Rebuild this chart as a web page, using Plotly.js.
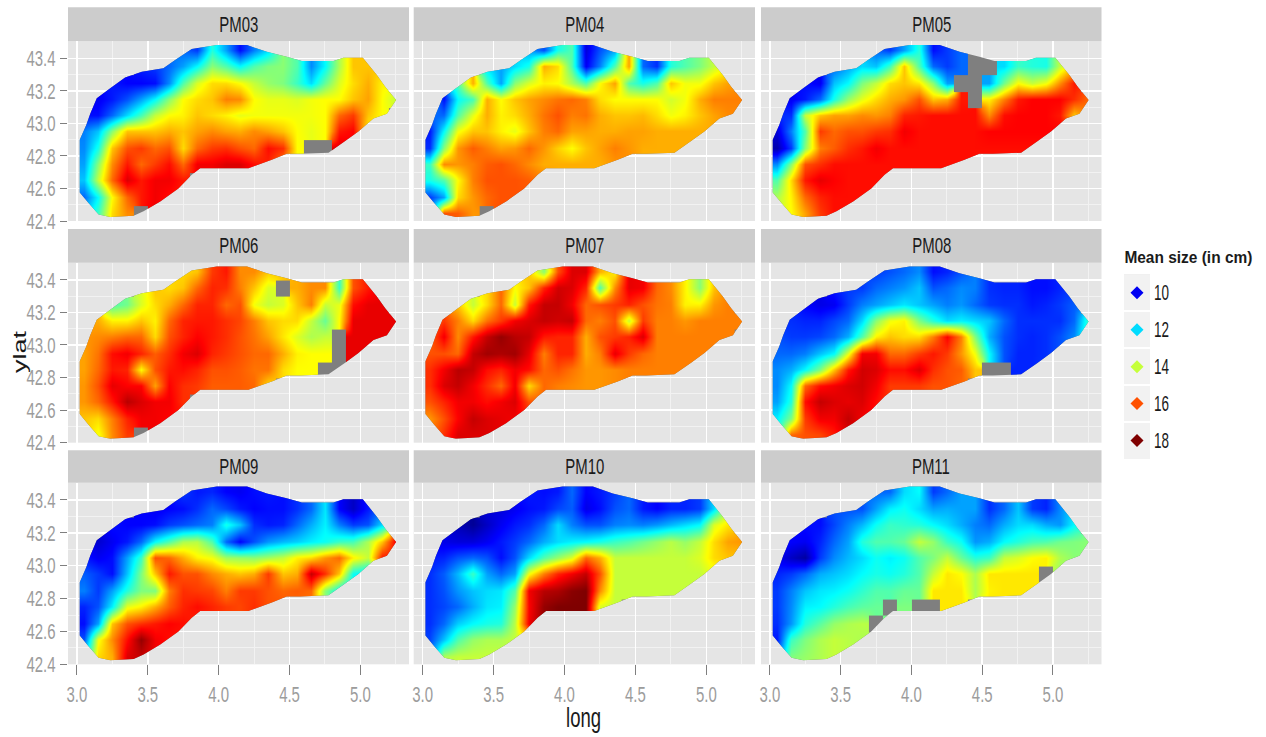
<!DOCTYPE html>
<html>
<head>
<meta charset="utf-8">
<script src="https://cdn.plot.ly/plotly-3.0.1.min.js"></script>
<style>html,body{margin:0;padding:0;background:#fff}#chart{width:1266px;height:737px}</style>
</head>
<body>
<div id="chart"></div>
<script>
// Grid of the interpolated surface (cell centres)
const GRID_LONG = [3.05,3.15,3.25,3.35,3.45,3.55,3.65,3.75,3.85,3.95,4.05,4.15,4.25,4.35,4.45,4.55,4.65,4.75,4.85,4.95,5.05,5.15,5.25];
const GRID_LAT = [43.45,43.35,43.25,43.15,43.05,42.95,42.85,42.75,42.65,42.55,42.45];
const ROW_FIRST_COL = [7,4,2,0,0,0,0,0,0,0,0];

// Study-area boundary
const OUTLINE_LONG = [3.02,3.066,3.094,3.14,3.235,3.34,3.458,3.61,3.693,3.81,3.987,4.2,4.34,4.48,4.587,4.81,4.88,5.017,5.116,5.175,5.252,5.187,5.092,4.986,4.89,4.775,4.575,4.48,4.375,4.21,3.87,3.81,3.716,3.588,3.47,3.40,3.235,3.153,3.082,3.02];
const OUTLINE_LAT = [42.9,42.99,43.06,43.155,43.216,43.283,43.318,43.339,43.39,43.457,43.482,43.482,43.44,43.41,43.384,43.384,43.404,43.404,43.298,43.226,43.144,43.06,43.03,42.95,42.89,42.82,42.813,42.813,42.776,42.725,42.725,42.684,42.60,42.52,42.46,42.433,42.425,42.44,42.51,42.576];

// Mean size (cm) per month, rows from north to south; null = no estimate (grey)
const PM03 = [
[11,10.6,12.6,11.5,10.2,11.2,12,13.5,13,11.3,12.3,13.8,15,15],
[10.4,10.6,11,11.5,12.3,13.5,13,12.3,13,13.4,13.5,13,11.3,12.3,13.8,15,15,15],
[10.3,10.1,10.1,10.2,11.3,13,14.2,14.8,14.8,14.5,14,13.6,13.4,12.8,12,13.2,14.2,14.8,15.2,14.6],
[10,10,10.3,10.8,11.5,12.3,13.5,14.5,14.8,15,15.6,15.5,14.5,14.3,14.3,14.2,14.4,14.5,14.5,15,15.3,14.5,14],
[10.2,10.2,11,12,12.9,14,14.5,14.6,15,14.8,14.6,14.3,14.4,14.4,14.4,14.4,14.4,14.5,15.8,16.2,15,14.5,null],
[11.2,11.8,13.5,15,15,15,15.2,15,15.3,15.5,15.3,15.2,15.5,15.3,15,14.5,14.3,14.5,16.5,16.7,14.6,14.5],
[11.3,12.5,15,16,16.2,15.8,16,14.8,15.8,16.2,16.3,16,15.8,16.6,16.3,14.5,null,null,17,16.7,15],
[11.5,13.5,15.5,16.5,15.8,16.2,16.6,15.8,16.8,16.8,17,17,16.6,16.4,15.5,14.5,14.5,17,17],
[11.8,14,15.8,17,16.5,16.8,16.8,16.5,null,16.8,17,17,16.6],
[11,12.3,14.5,15.8,16.5,16.8,16.6,16.5],
[11.8,12.8,14.8,15.5,null,16.8,16.6]];
const PM04 = [
[11.5,10.8,12.5,13,9.8,10.8,11.5,15.3,11,10.5,12.6,13,13.4,14],
[12,11.5,12,12.5,15.2,14.8,13,10,11.2,13,15.3,11,10.5,12.6,13,13.4,14,14.5],
[13,15.2,13,11.5,13.5,14.2,14.6,14.5,13.8,13,14.5,15.3,13,12.5,13,15,14.4,14.4,15,15.3],
[12,10.2,12.3,12.9,15.2,14.5,15,15.3,15.5,15.7,15.8,15.6,14.8,14.5,14.5,14.5,14.5,14.1,14.4,15.2,15.6,15.6,15.6],
[11,11,13,14.3,15.2,14.6,14.8,15.2,15.7,16,15.6,15.7,15.2,15,15,15.1,14.8,14.4,14.6,15,15.3,15.5,15.5],
[10.3,12.3,14.4,15,15,14.6,14.3,15,15.6,15.8,15.3,15.3,15.2,15.2,15.3,15.3,15.2,15.2,15.2,15.2,15.2,15.2],
[10.5,13.5,15.4,15.9,15.6,15.3,15.4,15.8,15.4,14.9,14.5,15,15.3,15.6,15.4,15.2,15.2,15.2,15.2,15.2,15.2],
[12.8,15.5,15.4,15.6,15.9,16,15.8,15.5,15.2,15.2,15.2,15.2,15.2,15.4,15.5,15.2,15.2,15.2,15.2],
[12.5,13,14.5,15.6,16,16,16,15.9,15.6,15.2,15.2,15.2,15.2],
[10.6,11.5,14.8,15.4,15.8,16,16,16],
[11,16,15.9,15.4,null,16,16]];
const PM05 = [
[11,10.6,11.5,12.6,10.2,10.6,11,null,null,12,12.8,12.6,12.5,14],
[11,11.5,12,11.8,12.9,15,13,11,10.6,11,null,null,12,12.8,12.6,12.5,14,15],
[10.2,10,11.8,12.3,13.4,14,14.8,15,14.7,13.5,11.5,null,null,11.5,13.3,14.5,14,14.4,15.5,16.5],
[10.2,10,10.3,11,12.5,13.6,14.3,14.8,15.2,15.4,16,15,15.2,16.5,null,14.6,15.6,16.5,16.7,16.7,16.7,16.3,15.8],
[10.5,10.5,14,15,15.3,15.3,15.5,15.4,15.6,16.4,16.5,16.6,16.6,16.6,16.6,15.5,16.6,16.7,16.7,16.7,16.5,15,15.6],
[9.8,11.2,13,16.2,15.8,16,16,16.2,16.3,16.8,16.6,16.6,16.6,16.6,16.6,16.7,16.7,16.7,16.7,16.7,16.7,16.5],
[9.4,10.6,13.5,15.6,15.9,16.3,16.5,16.8,16.6,16.6,16.6,16.6,16.6,16.6,16.6,16.6,16.6,16.6,16.6,16.6,16.6],
[11.3,13.5,16,16.3,16.6,16.6,16.6,16.6,16.6,16.6,16.6,16.6,16.6,16.6,16.6,16.6,16.6,16.6,16.6],
[13,14.8,16.5,16.9,16.7,16.6,16.6,16.6,16.6,16.6,16.6,16.6,16.6],
[13.8,14.6,15.8,16.4,16.6,16.6,16.6,16.6],
[14,14.5,15.3,16.2,16.6,16.6,16.6]];
const PM06 = [
[14.8,15,16.2,16.5,15.5,15.5,15,15,15.2,15.5,15.5,12.8,16,16.5],
[14.2,15,14.8,15,15.8,16.4,16.3,15.6,15,14.2,null,15.2,15.5,15.5,12.8,16,16.5,16.9],
[13,13.3,14.2,14.8,15.2,15.8,16.4,16.4,15.8,16,14.4,14,14.2,15,15.6,14,14.3,16.6,16.9,16.9],
[15.3,15.2,14.6,14.6,15,14.6,15.8,16.4,16.5,16.5,16.3,16.1,15.6,15,14.8,14.8,14,13.2,14.5,16.9,16.9,16.9,16.9],
[15.4,15.5,15.6,15.8,15.8,14.8,16,16.4,16.7,16.5,16.3,16,15.7,15.3,14.7,14.2,13.8,14,null,16.9,16.9,16.9,16.9],
[15.3,15.7,16.6,16.8,16.4,15.9,16.3,16.8,17,16.4,16.2,16,15.8,15.8,15.2,14.6,14.5,14.5,null,16.9,16.9,16.9],
[15.3,15.8,16.5,16.4,14.5,16,16.5,16.6,16.4,16,16,15.9,15.7,15.7,14.8,14.5,14.5,null,null,16.9,16.9],
[15.4,16,16.9,16.7,16.7,15.3,16.7,16.3,16.2,15.9,15.9,15.9,15.8,14.8,null,14.5,14.5,null,null],
[15.4,15.8,16.5,17.3,17,16.8,16.8,16.3,null,15.9,15.9,15.9,15.8],
[15,14.8,15.6,16.4,16.8,16.8,16.7,16.6],
[15,14.4,15.5,16.2,null,16.8,16.7]];
const PM07 = [
[15,13.5,16,17,17,15.2,14.6,16.9,16.8,15.8,15.5,14.6,13.5,15],
[14.8,15.8,14.5,15,16.4,17.1,17,16.4,13,15.5,16.9,16.8,15.8,15.5,14.6,13.5,15,15.6],
[15,14,14.8,15.8,14,16.5,17.2,17.2,16.8,15.8,16,16.2,16.4,16,15.7,15.6,14.6,14.6,15.4,15.6],
[15.8,16.2,15.6,14.8,15.7,16.2,16.8,17,17.2,17.1,17.2,15.8,15.6,16,14,16.2,15.6,15.6,15.4,15.6,15.6,15.6,15.6],
[15.8,16.8,15.5,16.5,17.2,17.6,17.3,17.2,16.5,16.4,16.4,15.2,16,16.2,16.4,17,15.6,15.6,15.6,15.6,15.6,15.6,null],
[16,16,15.8,17.2,17.5,17.4,17.5,16.9,15.6,16.4,16.4,15.2,15.6,16.9,16.2,15.8,15.6,15.6,15.6,15.6,15.6,15.6],
[16.3,16.8,17.3,17.2,16.6,16.4,16.8,16.6,15.8,16,15.7,15.4,15.4,15.5,15.6,15.6,15.6,15.6,15.6,15.6,15.6],
[16.3,17,17.2,16.8,16.3,15.8,16.8,14.8,15.8,15.6,15.5,15.4,15.4,15.5,15.6,15.6,15.6,15.6,15.6],
[16,16.4,16.8,16.8,16.6,16.8,17,16,15.8,15.6,15.5,15.4,15.4],
[15.4,16,16.7,17.2,17,16.9,16.8,16.5],
[15.6,16.3,17,17,17,16.9,16.8]];
const PM08 = [
[10.6,10.8,11,11.3,10.2,10.4,10.8,11.2,10.5,10.4,10.4,10.2,10.2,10.4],
[10.3,10.6,10.6,11,11.2,11.4,11.8,10.8,11,11.3,11.2,10.5,10.4,10.4,10.2,10.2,10.4,10.6],
[10.1,9.9,10,10.6,11.2,11.5,11.8,12.1,11.8,11.5,11.2,11.4,11,10.6,10.5,10.5,10.3,10.4,10.6,10.9],
[10.4,10.5,10.4,10.4,10.7,11,12,13.5,14.4,14.6,13.4,12.6,12,12.2,12,11.8,11,10.5,10.5,10.5,10.5,11,12.7],
[10.8,10.6,10.6,10.7,11,11.6,13,14.6,15,14.8,14.8,15.6,16.7,15.6,13.4,11.6,10.8,10.5,10.4,10.5,10.8,11.3,12.9],
[11,11,11.2,11.8,12.3,14.3,16.8,16.8,15.8,15.8,16.2,16.5,16.2,15.4,14.4,12.3,10.8,10.4,10.4,10.5,10.8,11],
[11.3,11.6,12.3,13.4,15,16.5,17.1,17,16.6,16.6,17,16.3,16,15.9,15,null,null,10.4,10.4,10.6,10.6],
[11.3,12.3,15.8,16.6,16.8,17,17.1,16.8,16.2,16.2,16.2,16,16,15.8,null,null,null,null,10.4],
[11.5,12.6,16.6,17.2,17,16.9,17,16.6,16.2,16.2,16.2,16,16],
[12.2,13.4,16.2,16.8,16.8,17.2,16.8,16.6],
[12.3,15.8,16,16.1,16.5,17,16.8]];
const PM09 = [
[10.6,10.3,10.4,10.1,10,10.2,10.3,10.2,10.5,11,12.1,10.1,9.6,10.3],
[10.1,10,10.1,10.2,10.5,11,10.7,10.3,10.1,10.2,10.2,10.5,11,12.1,10.1,9.6,10.3,11],
[10.2,10.1,10.1,10.2,10.6,10.8,11,11.2,12.5,11.8,10.5,10.3,10.4,11,11.6,12.2,11.2,10.6,10.8,12],
[10,9.7,10,10.3,11,12.3,13,13.8,13.9,13,11,10.1,10.8,11.4,11.7,11.9,12.2,12.4,12.8,12.9,13.8,15,16.8],
[10.3,10,10.2,11.5,12.8,16,15.8,15.2,14.6,14.4,13.7,13.6,13.5,13.7,14,14.6,14.8,15.4,15.8,14.6,14,16.5,16.5],
[10.9,10.6,10.2,11.8,13.4,15,16.5,16,16,15.5,15.2,15,15.2,16.2,15,15.2,17.2,16.3,15,12.4,12,12.5],
[11.2,10.6,11.5,12.6,13.4,13.4,15.6,16.3,16.2,16.1,15.6,16.2,16.2,16,15.8,15.9,15.8,13.5,12.3,12,12],
[10.4,10.8,12.2,14.3,14.6,15.2,15.9,16.4,16.6,16.4,16.2,16.1,16.3,16,16,15.8,15.6,13.5,12.3],
[10.2,11.5,15,16,16.3,16.5,16.7,16.6,16.4,16.4,16.2,16.1,16.3],
[10.8,14.4,15.5,16.6,17.6,16.8,16.6,16.5],
[12,14.8,15.2,17,17.2,16.8,16.6]];
const PM10 = [
[10.3,10.2,10.3,11,10.1,10.3,10.6,11,10.3,10.1,10.4,10.4,10.6,12],
[9.8,9.8,10,10.2,10.3,10.7,10.9,9.9,10.2,10.8,11,10.3,10.1,10.4,10.4,10.6,12,14],
[9.5,9.2,9.6,10,10.3,10.5,11,12,11.2,10.8,10.8,11.2,11.3,11.2,11.4,11.7,12,12.3,14.2,14.7],
[10,9.9,9.8,9.8,10,10.3,10.6,11,11.6,12,12.2,12.3,12.5,12.8,13,13.3,13.6,13.9,13.6,14,14.8,15.3,15.4],
[10.3,10.4,10.8,11,10.8,10.2,10.8,12,13,13.6,14.2,15.8,15.2,14,14,14,14,14,14,14.2,14.8,15,15],
[10.5,10.9,11.7,12.8,11.5,11,11.5,14.4,15.6,16.4,16.8,17.2,16,14,14,14,14,14,14,14,14.3,14.6],
[10.5,10.8,11.4,11.8,12,12.1,13,16.8,17.3,17.4,17.7,17.8,15.5,14,14,14,14,14,14,14,14],
[10.5,10.7,11,11.6,12.1,12.2,13.6,16.7,17.6,17.8,17.8,17.8,14.2,14,null,14,14,14,14],
[10.5,11,11.9,12.3,12.5,12.6,13.9,16.8,17.6,17.8,17.8,17.8,14.2],
[10.7,11.8,13,13.6,13.8,13.8,14,14.5],
[11,13.8,14,14,14,14,14]];
const PM11 = [
[11,11,12,12.3,10.6,11,11.5,11.5,10.5,11,11.8,10.6,10.4,11.3],
[10.8,10.8,10.8,11.5,12.2,12.4,12,11.5,11.6,11.5,11.5,10.5,11,11.8,10.6,10.4,11.3,12],
[10.2,10.2,10.7,11.2,11.7,12.4,12.8,12.7,12.6,12.3,12,11.6,11.2,11,11.6,12,12,11.6,11.4,12.3],
[10.4,10.1,10,10.4,11,11.5,12.6,13,13,13.2,14,13.6,12.8,12.4,11.4,11.6,12.3,12.6,12.9,13,13.3,13.4,13.5],
[10,9.6,9.3,10.6,11.3,11.7,12,12.4,12.2,12.4,13,13.4,14,13.2,12.6,12.8,14,14.2,14.5,14.6,13.8,13.5,13.5],
[10.4,10.6,11,11.6,11.8,12,12.3,12.5,12.4,12.6,13,14,14.7,14.5,13.8,14.7,14.7,14.7,14.7,null,13.6,13.4],
[10.6,11.2,11.8,12.1,12.2,12.4,12.7,13,13,13.2,13.2,14.7,14.7,14.7,13.8,14.6,14.7,14.7,14.7,14.6,13.5],
[10.6,11.3,12.2,12.3,12.6,12.9,13.1,13.2,null,13.4,null,null,14.7,14.7,null,14.7,14.7,14.7,14.7],
[10.5,11.4,12.6,13.1,13.6,13.8,13.9,null,13.4,13.4,13.4,14.7,14.6],
[10.3,12.8,13.4,13.8,14,13.9,13.8,13.8],
[11,13.4,13.6,13.8,14,13.9,13.8]];

const PANEL_NAMES = ["PM03","PM04","PM05","PM06","PM07","PM08","PM09","PM10","PM11"];
const PANEL_VALUES = [PM03,PM04,PM05,PM06,PM07,PM08,PM09,PM10,PM11];
const X_TICKS = [3,3.5,4,4.5,5];
const X_TICK_LABELS = ["3.0","3.5","4.0","4.5","5.0"];
const X_MINOR = [3.25,3.75,4.25,4.75,5.25];
const Y_TICKS = [42.4,42.6,42.8,43,43.2,43.4];
const Y_TICK_LABELS = ["42.4","42.6","42.8","43.0","43.2","43.4"];
const Y_MINOR = [42.5,42.7,42.9,43.1,43.3];
const LEGEND_VALUES = [10,12,14,16,18];
const LEGEND_TITLE = "Mean size (in cm)";

const JET = [[0,"#00007F"],[0.125,"#0000FF"],[0.25,"#007FFF"],[0.375,"#00FFFF"],[0.5,"#7FFF7F"],[0.625,"#FFFF00"],[0.75,"#FF7F00"],[0.875,"#FF0000"],[1,"#7F0000"]];
const Z_MIN = 9, Z_MAX = 17.8;
const W = 1266, H = 737;
const FONT = '"Liberation Sans",Arial,sans-serif';
const COLS = [[68,409],[413.7,755],[761,1101.5]];
const ROWS = [[41.3,221],[262.7,442.7],[482.7,664.3]];
const STRIP_TOPS = [7.3,229,450.3];
const SOUTH_TO_NORTH = GRID_LAT.slice().reverse();

function padded(rows){
  return rows.map((r,i)=>{
    const out = new Array(GRID_LONG.length).fill(null);
    r.forEach((v,j)=>{out[ROW_FIRST_COL[i]+j]=v;});
    return out;
  }).reverse();
}

const traces = [], shapes = [], annotations = [];
const layout = {
  width:W, height:H, margin:{l:0,r:0,t:0,b:0}, paper_bgcolor:"#fff", plot_bgcolor:"#e5e5e5",
  showlegend:false, hovermode:false, font:{family:FONT,color:"#1a1a1a"}
};

PANEL_NAMES.forEach((name,i)=>{
  const c = i%3, r = Math.floor(i/3);
  const sx = i===0?"":String(i+1);
  const xName = "xaxis"+sx, yName = "yaxis"+sx;
  layout[xName] = {
    domain:[COLS[c][0]/W,COLS[c][1]/W], range:[2.937,5.343], anchor:"y"+sx, fixedrange:true,
    tickmode:"array", tickvals:X_TICKS, ticktext:X_TICK_LABELS, showticklabels:r===2,
    ticks:r===2?"outside":"", ticklen:10, tickwidth:1, tickcolor:"#7f7f7f",
    tickfont:{family:FONT,size:22,color:"#9c9c9c"}, zeroline:false, showline:false,
    showgrid:true, gridcolor:"#ffffff", gridwidth:1.6,
    minor:{tickmode:"array",tickvals:X_MINOR,showgrid:true,gridcolor:"#f2f2f2",gridwidth:1,ticks:""}
  };
  layout[yName] = {
    domain:[1-ROWS[r][1]/H,1-ROWS[r][0]/H], range:[42.4,43.505], anchor:"x"+sx, fixedrange:true,
    tickmode:"array", tickvals:Y_TICKS, ticktext:Y_TICK_LABELS, showticklabels:c===0,
    ticks:c===0?"outside":"", ticklen:7, tickwidth:1, tickcolor:"#7f7f7f",
    tickfont:{family:FONT,size:22,color:"#9c9c9c"}, zeroline:false, showline:false,
    showgrid:true, gridcolor:"#ffffff", gridwidth:1.6,
    minor:{tickmode:"array",tickvals:Y_MINOR,showgrid:true,gridcolor:"#f2f2f2",gridwidth:1,ticks:""}
  };
  // grey base: the study area where no estimate exists
  traces.push({
    type:"heatmap", x:[3,5.3], y:[42.4,43.5], z:[[0,0],[0,0]], xaxis:"x"+sx, yaxis:"y"+sx,
    colorscale:[[0,"#7f7f7f"],[1,"#7f7f7f"]], showscale:false, hoverinfo:"skip"
  });
  traces.push({
    type:"heatmap", x:GRID_LONG, y:SOUTH_TO_NORTH, z:padded(PANEL_VALUES[i]), xaxis:"x"+sx, yaxis:"y"+sx,
    colorscale:JET, zmin:Z_MIN, zmax:Z_MAX, zsmooth:"best", showscale:false, hoverinfo:"skip"
  });
  shapes.push({type:"rect",xref:"paper",yref:"paper",layer:"below",
    x0:COLS[c][0]/W,x1:COLS[c][1]/W,y0:1-ROWS[r][0]/H,y1:1-STRIP_TOPS[r]/H,fillcolor:"#cccccc",line:{width:0}});
  annotations.push({xref:"paper",yref:"paper",x:(COLS[c][0]+COLS[c][1])/2/W,y:1-(STRIP_TOPS[r]+ROWS[r][0])/2/H,
    text:name,showarrow:false,xanchor:"center",yanchor:"middle",font:{family:FONT,size:22,color:"#1a1a1a"}});
});

// legend keys as a small subplot
layout.xaxis10 = {domain:[1124/W,1150/W],range:[0,1],anchor:"y10",fixedrange:true,showgrid:false,zeroline:false,showticklabels:false,ticks:""};
layout.yaxis10 = {domain:[1-459/H,1-274.3/H],range:[19,9],anchor:"x10",side:"right",fixedrange:true,
  tickmode:"array",tickvals:LEGEND_VALUES,ticktext:LEGEND_VALUES.map(String),ticks:"",showgrid:false,zeroline:false,
  tickfont:{family:FONT,size:22,color:"#1a1a1a"},ticklabelstandoff:3,
  minor:{tickmode:"array",tickvals:[11,13,15,17],showgrid:true,gridcolor:"#ffffff",gridwidth:1.6,ticks:""}};
shapes.push({type:"rect",xref:"x10",yref:"y10",layer:"below",x0:0,x1:1,y0:19,y1:9,fillcolor:"#f2f2f2",line:{width:0}});
traces.push({type:"scatter",mode:"markers",x:LEGEND_VALUES.map(()=>0.5),y:LEGEND_VALUES,xaxis:"x10",yaxis:"y10",hoverinfo:"skip",
  marker:{symbol:"diamond",size:10,color:LEGEND_VALUES,colorscale:JET,cmin:Z_MIN,cmax:Z_MAX,line:{width:0}}});
annotations.push({xref:"paper",yref:"paper",x:1188/W,y:1-257/H,text:LEGEND_TITLE,showarrow:false,xanchor:"center",yanchor:"middle",
  font:{family:FONT,size:17,weight:"bold",color:"#1a1a1a"}});
annotations.push({xref:"paper",yref:"paper",x:583/W,y:1-718/H,text:"long",showarrow:false,xanchor:"center",yanchor:"middle",
  font:{family:FONT,size:27,color:"#1a1a1a"}});
annotations.push({xref:"paper",yref:"paper",x:20/W,y:1-352/H,text:"ylat",showarrow:false,textangle:-90,xanchor:"center",yanchor:"middle",
  font:{family:FONT,size:18,color:"#1a1a1a"}});
layout.shapes = shapes;
layout.annotations = annotations;

const gd = document.getElementById("chart");
Plotly.newPlot(gd,traces,layout,{staticPlot:true,displayModeBar:false}).then(()=>{
  // trim each heatmap image to the study-area boundary, in axis coordinates
  const NS = "http://www.w3.org/2000/svg";
  const images = gd.querySelectorAll(".heatmaplayer image");
  const defs = gd.querySelector("svg.main-svg defs");
  images.forEach((img,k)=>{
    const i = Math.floor(k/2), sx = i===0?"":String(i+1);
    const xa = gd._fullLayout["xaxis"+sx], ya = gd._fullLayout["yaxis"+sx];
    const cp = document.createElementNS(NS,"clipPath");
    cp.setAttribute("id","area"+k);
    const poly = document.createElementNS(NS,"polygon");
    poly.setAttribute("points",OUTLINE_LONG.map((lo,j)=>xa.c2p(lo)+","+ya.c2p(OUTLINE_LAT[j])).join(" "));
    cp.appendChild(poly);
    defs.appendChild(cp);
    img.setAttribute("clip-path","url(#area"+k+")");
  });
  // the reference's lettering is condensed sideways: fit each text to that width
  gd.querySelectorAll("svg text").forEach(t=>{
    const s = t.textContent, len = t.getComputedTextLength();
    if(!s || !len) return;
    let target = len*0.68;
    if(s===LEGEND_TITLE) target = 128;
    if(s==="ylat") target = 42;
    if(s==="long") target = 35;
    if(LEGEND_VALUES.map(String).includes(s)) target = 15;
    t.setAttribute("textLength",target);
    t.setAttribute("lengthAdjust","spacingAndGlyphs");
  });
});
</script>
</body>
</html>
